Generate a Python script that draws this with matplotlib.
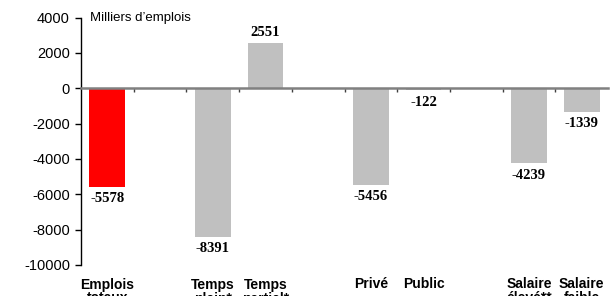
import numpy as np
import matplotlib
matplotlib.use('Agg')
import matplotlib.pyplot as plt
from matplotlib.ticker import FixedLocator

# Data (thousands of jobs)
labels = ['Emplois\ntotaux', 'Temps\nplein*', 'Temps\npartiel*', 'Privé', 'Public',
          'Salaire\nélevé**', 'Salaire\nfaible']
values = [-5578, -8391, 2551, -5456, -122, -4239, -1339]
slots = [0, 2, 3, 5, 6, 8, 9]
colors = ['#FF0000'] + ['#C0C0C0'] * 6

plt.rcParams['axes.unicode_minus'] = False
sans = 'Liberation Sans'
serif = 'Liberation Serif'

fig = plt.figure(figsize=(6.13, 2.96), dpi=100)
ax = fig.add_axes([81/613, 1 - 265/296, (608 - 81)/613, (265 - 17.5)/296])

ax.bar(slots, values, width=0.68, color=colors, zorder=2)

ax.set_xlim(-0.5, 9.5)
ax.set_ylim(-10000, 4000)
ax.set_yticks(np.arange(-10000, 4001, 2000))
ax.tick_params(axis='y', direction='out', length=4, width=1, pad=4, labelsize=10.5)
for t in ax.get_yticklabels():
    t.set_fontfamily(sans)

# x axis line at zero, grey, ticks at slot boundaries
ax.spines['bottom'].set_position(('data', 0))
ax.spines['bottom'].set_color('#808080')
ax.spines['bottom'].set_linewidth(1.8)
ax.spines['top'].set_visible(False)
ax.spines['right'].set_visible(False)
ax.spines['left'].set_linewidth(1)
ax.set_xticks([])
ax.xaxis.set_minor_locator(FixedLocator(np.arange(0.5, 9, 1)))
ax.tick_params(axis='x', which='minor', direction='out', length=3, width=1,
               color='#404040', labelbottom=False)

# value labels
for x, v in zip(slots, values):
    if v >= 0:
        ax.annotate(f'{v}', (x, v), xytext=(0, 3), textcoords='offset points',
                    ha='center', va='bottom', fontsize=10.5, fontweight='bold',
                    family=serif)
    else:
        ax.annotate(f'{v}', (x, v), xytext=(0, -4), textcoords='offset points',
                    ha='center', va='top', fontsize=10.5, fontweight='bold',
                    family=serif)

# category labels below the axes
for x, lab in zip(slots, labels):
    ax.annotate(lab, (x, 0), xycoords=('data', 'axes fraction'),
                xytext=(0, -9), textcoords='offset points',
                ha='center', va='top', fontsize=10, fontweight='bold',
                family=sans, linespacing=1.0, annotation_clip=False)

ax.text(0.017, 1.0, 'Milliers d\u2019emplois', transform=ax.transAxes,
        ha='left', va='center', fontsize=9.5, family=sans)

fig.savefig('out.png', dpi=100)
